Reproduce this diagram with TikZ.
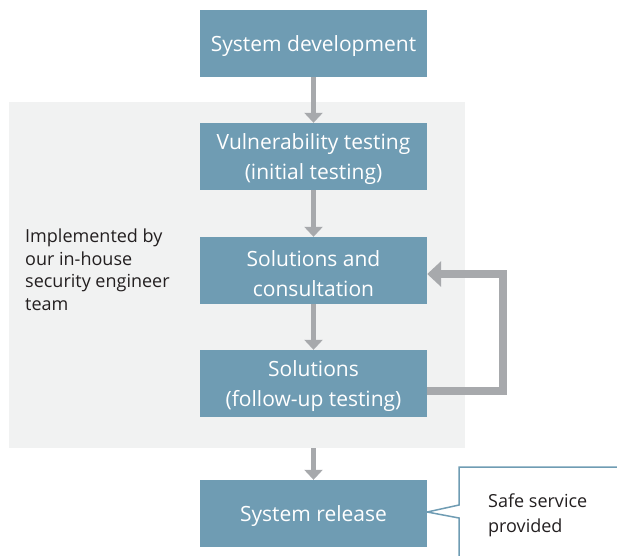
\documentclass[tikz,border=0pt]{standalone}
\usepackage{fontspec}
\setmainfont{Open Sans}
\usetikzlibrary{arrows.meta}
\definecolor{boxblue}{HTML}{6F9CB3}
\definecolor{panelgray}{HTML}{F1F2F2}
\definecolor{arrowgray}{HTML}{A7A9AC}
\definecolor{textdark}{HTML}{231F20}
\tikzset{
  stepbox/.style={fill=boxblue, draw=none, minimum width=227pt, minimum height=67pt,
    inner sep=0pt},
  boxtext/.style={inner sep=0pt, align=center, text=white, font=\fontsize{21}{30}\selectfont, yshift=-3pt},
  flow/.style={draw=arrowgray, line width=4.5pt, -{Triangle[width=18pt,length=10pt]}},
  loopflow/.style={draw=arrowgray, line width=8pt, -{Triangle[width=25pt,length=14pt]}},
  note/.style={align=left, text=textdark, inner sep=0pt, anchor=north west},
  callout/.style={draw=boxblue, line width=1.5pt}
}
\begin{document}
\begin{tikzpicture}[x=1pt,y=-1pt]
\useasboundingbox (0,0) rectangle (617,555);
\fill[panelgray] (9,102) rectangle (465,448);
\node[stepbox] (sd) at (313.5,43.5) {};
\node[stepbox] (vt) at (313.5,156.5) {};
\node[stepbox] (sc) at (313.5,270.5) {};
\node[stepbox] (sf) at (313.5,383.5) {};
\node[stepbox] (sr) at (313.5,513.5) {};
\node[boxtext] (sdt) at (sd.center) {System development};
\node[boxtext] (vtt) at (vt.center) {Vulnerability testing\\(initial testing)};
\node[boxtext] (sct) at (sc.center) {Solutions and\\consultation};
\node[boxtext] (sft) at (sf.center) {Solutions\\(follow-up testing)};
\node[boxtext] (srt) at (sr.center) {System release};
\coordinate (pb) at (313.5,448);
\coordinate (lr1) at (503,391);
\coordinate (lr2) at (503,274);
\draw[flow] (sd.south) -- (vt.north);
\draw[flow] (vt.south) -- (sc.north);
\draw[flow] (sc.south) -- (sf.north);
\draw[flow] (pb) -- (sr.north);
\draw[loopflow] (sf.east |- lr1) -- (lr1) -- (lr2) -- (sc.east |- lr2);
\node[note, font=\fontsize{18}{22.5}\selectfont] (impl) at (25,229) {Implemented by\\our in-house\\security engineer\\team};
\coordinate (ct) at (459,467);
\coordinate (cb) at (459,556);
\coordinate (cr) at (618,467);
\coordinate (cp1) at (459,505);
\coordinate (cp2) at (459,518);
\draw[callout, line join=miter] (cr) -- (ct) -- (cp1) -- (sr.east |- 0,512) -- (cp2) -- (cb);
\node[note, font=\fontsize{18}{25}\selectfont] (safe) at (488,494) {Safe service\\provided};
\end{tikzpicture}
\end{document}
